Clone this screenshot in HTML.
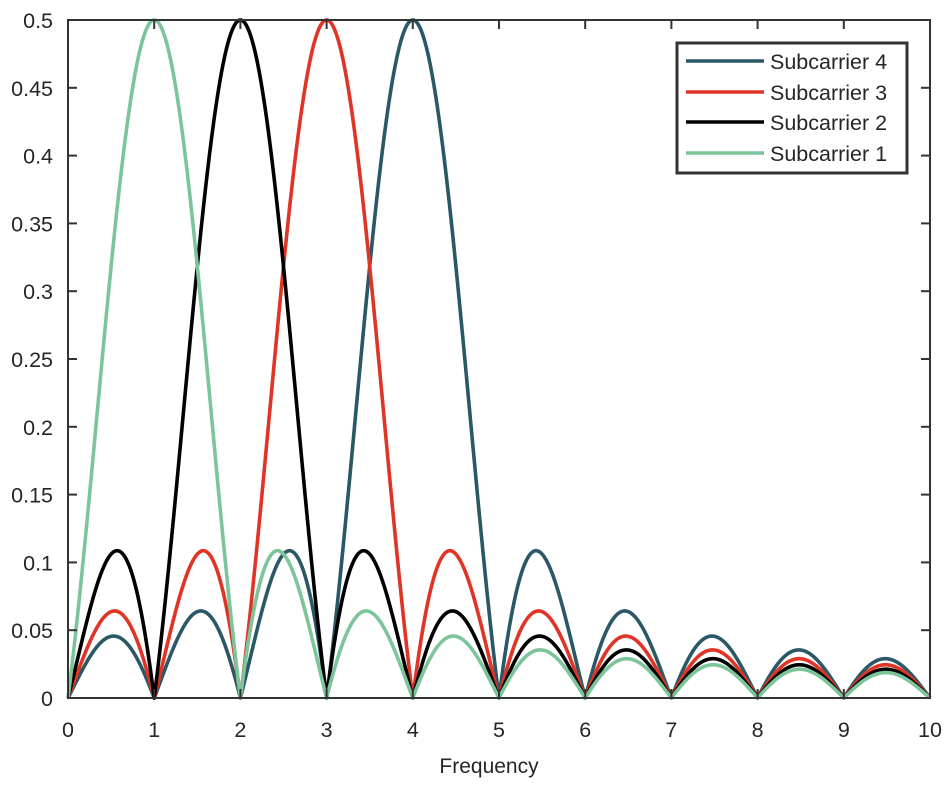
<!DOCTYPE html>
<html><head><meta charset="utf-8"><style>
html,body{margin:0;padding:0;background:#fff;}
svg text{font-family:"Liberation Sans",Arial,sans-serif;fill:#262626;}
</style></head><body>
<svg id="s" width="944" height="790" xmlns="http://www.w3.org/2000/svg">
<rect width="944" height="790" fill="#fff"/>
<g id="curves" fill="none" stroke-width="3.6" stroke-linejoin="round"></g>
<g id="axes" stroke="#333" stroke-width="2" fill="none">
<rect x="68" y="20" width="862" height="678"/>
</g>
<g id="ticks" stroke="#333" stroke-width="2"></g>
<g id="labels" font-size="21.5"></g>
<text x="489" y="773" font-size="21" text-anchor="middle">Frequency</text>
<rect x="677" y="43" width="230" height="130" fill="#fff" stroke="#333" stroke-width="3"/>
<line x1="686" y1="61" x2="764" y2="61" stroke="#2b5866" stroke-width="3.6"/>
<line x1="686" y1="92" x2="764" y2="92" stroke="#e03526" stroke-width="3.6"/>
<line x1="686" y1="122" x2="764" y2="122" stroke="#000" stroke-width="3.6"/>
<line x1="686" y1="153" x2="764" y2="153" stroke="#7cc49a" stroke-width="3.6"/>
<text x="770" y="69" font-size="21.5">Subcarrier 4</text>
<text x="770" y="100" font-size="21.5">Subcarrier 3</text>
<text x="770" y="130" font-size="21.5">Subcarrier 2</text>
<text x="770" y="161" font-size="21.5">Subcarrier 1</text>
</svg>
<script>
var NS="http://www.w3.org/2000/svg";
function X(f){return 68+f*86.2;}
function Y(v){return 698-v*1356;}
var cols={4:"#2b5866",3:"#e03526",2:"#000",1:"#7cc49a"};
var g=document.getElementById("curves");
[4,3,2,1].forEach(function(k){
 var d="";
 for(var i=0;i<=4000;i++){var f=i/400;var u=f-k;var v=Math.abs(u)<1e-9?1:Math.abs(Math.sin(Math.PI*u)/(Math.PI*u));
 d+=(i?"L":"M")+X(f).toFixed(2)+" "+Y(0.5*v).toFixed(2);}
 var p=document.createElementNS(NS,"path");p.setAttribute("d",d);p.setAttribute("stroke",cols[k]);g.appendChild(p);
});
var t=document.getElementById("ticks"),l=document.getElementById("labels");
function line(a,b,c,e){var q=document.createElementNS(NS,"line");q.setAttribute("x1",a);q.setAttribute("y1",b);q.setAttribute("x2",c);q.setAttribute("y2",e);t.appendChild(q);}
function txt(x,y,s,anc){var q=document.createElementNS(NS,"text");q.setAttribute("x",x);q.setAttribute("y",y);q.setAttribute("text-anchor",anc);q.textContent=s;l.appendChild(q);}
for(var i=0;i<=10;i++){var x=X(i);line(x,698,x,689);line(x,20,x,29);txt(x,737,String(i),"middle");}
for(var j=0;j<=10;j++){var v=j*0.05;var y=Y(v);line(68,y,77,y);line(930,y,921,y);
 var s=j==0?"0":(Math.round(v*100)/100).toString();txt(53,y+8,s,"end");}
</script>
</body></html>
